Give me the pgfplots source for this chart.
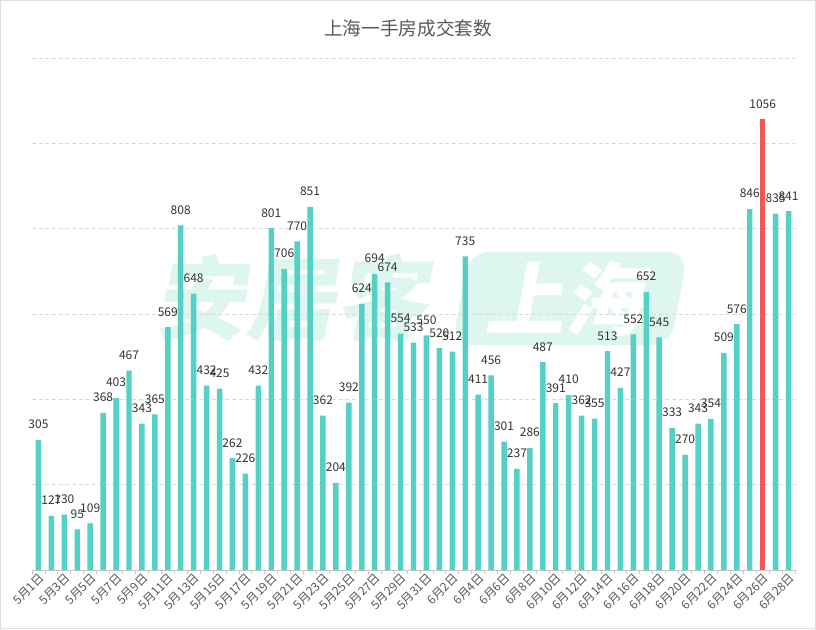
\documentclass[border=0pt]{standalone}
\usepackage{pgfplots}
\pgfplotsset{compat=1.18}
\usepackage{fontspec}
\setmainfont{Noto Sans CJK SC}
\definecolor{barteal}{HTML}{55D0C4}
\definecolor{barred}{HTML}{F25757}
\definecolor{wm}{HTML}{DDF6EF}
\definecolor{lbl}{HTML}{333333}
\definecolor{tcol}{HTML}{595959}
\pgfplotstableread{
x y
1 305
2 127
3 130
4 95
5 109
6 368
7 403
8 467
9 343
10 365
11 569
12 808
13 648
14 432
15 425
16 262
17 226
18 432
19 801
20 706
21 770
22 851
23 362
24 204
25 392
26 624
27 694
28 674
29 554
30 533
31 550
32 520
33 512
34 735
35 411
36 456
37 301
38 237
39 286
40 487
41 391
42 410
43 362
44 355
45 513
46 427
47 552
48 652
49 545
50 333
51 270
52 343
53 354
54 509
55 576
56 846
58 835
59 841
}\tealdata
\pgfplotstableread{
x y
57 1056
}\reddata
\begin{document}
\begin{tikzpicture}
\useasboundingbox (0,0) rectangle (612pt,471.75pt);
\fill[white] (0,0) rectangle (612pt,471.75pt);
\draw[gray!25, line width=0.75pt] (0.375pt,0.375pt) rectangle (611.625pt,471.375pt);
% watermark
\begin{scope}[shift={(222.75pt,248.25pt)}, xslant=0.18, transform shape]
\node[text=wm, font=\bfseries\fontsize{68}{68}\selectfont, inner sep=0pt] at (0,0) {安居客};
\end{scope}
\begin{scope}[shift={(427.5pt,247.9pt)}, xslant=0.18]
\fill[wm, rounded corners=16pt] (-82pt,-35pt) rectangle (82pt,35pt);
\end{scope}
\begin{scope}[shift={(427.5pt,247.9pt)}, xslant=0.18, transform shape]
\node[text=white, font=\bfseries\fontsize{60}{60}\selectfont, inner sep=0pt] at (0,0) {上海};
\end{scope}
\node[text=tcol, font=\fontsize{14}{14}\selectfont] at (306pt,450.75pt) {上海一手房成交套数};
\begin{axis}[
  at={(24pt,44.25pt)}, anchor=south west,
  scale only axis, width=572.25pt, height=384pt,
  xmin=0.5, xmax=59.5, ymin=0, ymax=1200,
  enlargelimits=false,
  axis x line*=bottom, axis y line*=left,
  x axis line style={-, draw=gray!45},
  y axis line style={draw=none},
  ybar, bar width=4.1pt,
  ytick={200,400,600,800,1000,1200}, yticklabels={},
  ymajorgrids, grid style={dash pattern=on 3pt off 2pt, gray!30, line width=0.6pt},
  xtick={1,3,...,59},
  xticklabels={5月1日,5月3日,5月5日,5月7日,5月9日,5月11日,5月13日,5月15日,5月17日,5月19日,5月21日,5月23日,5月25日,5月27日,5月29日,5月31日,6月2日,6月4日,6月6日,6月8日,6月10日,6月12日,6月14日,6月16日,6月18日,6月20日,6月22日,6月24日,6月26日,6月28日},
  minor xtick={0.5,1.5,...,59.5},
  major tick length=0pt, minor tick length=3pt,
  tick align=outside,
  minor tick style={gray!45, line width=0.6pt},
  xticklabel style={rotate=45, anchor=north east, inner sep=1pt, text=tcol, font=\fontsize{9}{9}\selectfont},
  point meta=explicit symbolic,
  nodes near coords,
  nodes near coords style={font=\fontsize{9}{9}\selectfont, text=lbl, anchor=south, inner sep=0pt, yshift=8pt},
  clip=false,
]
\addplot[fill=barteal, draw=none, bar shift=0pt] table[x=x,y=y,meta=y] {\tealdata};
\addplot[fill=barred, draw=none, bar shift=0pt] table[x=x,y=y,meta=y] {\reddata};
\end{axis}
\end{tikzpicture}
\end{document}
